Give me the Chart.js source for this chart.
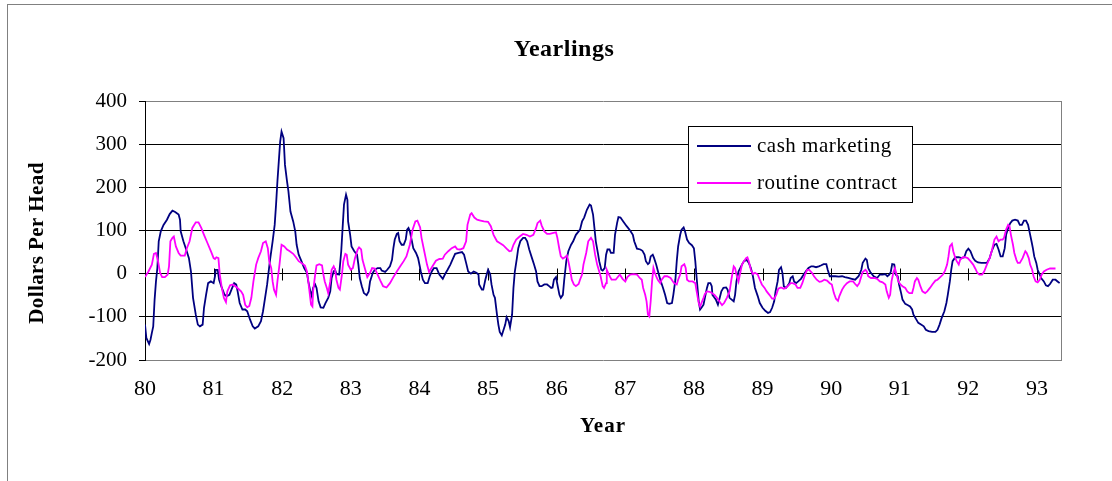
<!DOCTYPE html>
<html>
<head>
<meta charset="utf-8">
<title>Yearlings</title>
<script src="https://cdn.jsdelivr.net/npm/chart.js@4.4.0/dist/chart.umd.min.js"></script>
<style>
  html, body { margin: 0; padding: 0; background: #fff; }
  #wrap { position: relative; width: 1112px; height: 481px; }
</style>
</head>
<body>
<div id="wrap"><canvas id="chart" width="1112" height="481"></canvas></div>
<script>
const yearLabels = ["80", "81", "82", "83", "84", "85", "86", "87", "88", "89", "90", "91", "92", "93"];
const yTicks = [-200, -100, 0, 100, 200, 300, 400];

// cash marketing, dollars per head
const cashYears = [
  80.00, 80.02, 80.06, 80.08, 80.10, 80.12, 80.14, 80.16, 80.18, 80.20,
  80.23, 80.27, 80.32, 80.36, 80.40, 80.44, 80.49, 80.51, 80.52, 80.56,
  80.60, 80.64, 80.67, 80.70, 80.74, 80.77, 80.80, 80.84, 80.86, 80.89,
  80.92, 80.96, 81.00, 81.02, 81.03, 81.06, 81.08, 81.12, 81.16, 81.19,
  81.23, 81.26, 81.30, 81.33, 81.35, 81.38, 81.42, 81.46, 81.49, 81.53,
  81.57, 81.60, 81.65, 81.69, 81.72, 81.75, 81.78, 81.82, 81.86, 81.89,
  81.91, 81.93, 81.95, 81.97, 81.99, 82.02, 82.04, 82.07, 82.09, 82.12,
  82.16, 82.19, 82.21, 82.24, 82.28, 82.32, 82.36, 82.38, 82.41, 82.43,
  82.45, 82.48, 82.50, 82.53, 82.56, 82.60, 82.63, 82.67, 82.70, 82.72,
  82.75, 82.77, 82.79, 82.83, 82.86, 82.88, 82.90, 82.93, 82.95, 82.96,
  82.99, 83.01, 83.05, 83.09, 83.11, 83.13, 83.16, 83.19, 83.23, 83.26,
  83.28, 83.32, 83.35, 83.39, 83.43, 83.45, 83.50, 83.53, 83.57, 83.60,
  83.62, 83.64, 83.67, 83.69, 83.71, 83.74, 83.77, 83.80, 83.82, 83.84,
  83.86, 83.89, 83.91, 83.95, 83.98, 84.02, 84.05, 84.08, 84.12, 84.15,
  84.18, 84.21, 84.25, 84.29, 84.34, 84.37, 84.41, 84.45, 84.48, 84.52,
  84.57, 84.62, 84.65, 84.68, 84.71, 84.75, 84.79, 84.83, 84.86, 84.87,
  84.91, 84.93, 84.96, 84.98, 85.00, 85.03, 85.05, 85.08, 85.10, 85.13,
  85.15, 85.17, 85.20, 85.22, 85.25, 85.27, 85.30, 85.32, 85.35, 85.37,
  85.39, 85.42, 85.44, 85.47, 85.51, 85.54, 85.57, 85.60, 85.64, 85.67,
  85.70, 85.72, 85.75, 85.78, 85.82, 85.86, 85.89, 85.92, 85.94, 85.96,
  85.99, 86.02, 86.04, 86.06, 86.09, 86.11, 86.14, 86.17, 86.21, 86.24,
  86.28, 86.32, 86.34, 86.37, 86.40, 86.44, 86.48, 86.50, 86.53, 86.55,
  86.57, 86.60, 86.62, 86.65, 86.67, 86.70, 86.72, 86.74, 86.77, 86.79,
  86.83, 86.85, 86.88, 86.90, 86.93, 86.97, 87.02, 87.07, 87.11, 87.13,
  87.17, 87.22, 87.25, 87.28, 87.30, 87.33, 87.35, 87.37, 87.40, 87.42,
  87.45, 87.47, 87.51, 87.55, 87.58, 87.61, 87.64, 87.68, 87.70, 87.73,
  87.75, 87.77, 87.80, 87.82, 87.85, 87.87, 87.90, 87.93, 87.97, 88.00,
  88.02, 88.04, 88.07, 88.09, 88.11, 88.14, 88.16, 88.19, 88.21, 88.24,
  88.26, 88.27, 88.30, 88.32, 88.35, 88.37, 88.40, 88.43, 88.47, 88.49,
  88.52, 88.55, 88.58, 88.60, 88.62, 88.65, 88.70, 88.73, 88.77, 88.80,
  88.83, 88.86, 88.89, 88.93, 88.96, 89.00, 89.04, 89.08, 89.11, 89.14,
  89.17, 89.19, 89.22, 89.24, 89.27, 89.29, 89.31, 89.34, 89.36, 89.39,
  89.41, 89.44, 89.46, 89.49, 89.52, 89.56, 89.60, 89.64, 89.67, 89.71,
  89.74, 89.78, 89.82, 89.85, 89.89, 89.93, 89.95, 89.98, 90.01, 90.06,
  90.11, 90.16, 90.20, 90.25, 90.30, 90.35, 90.40, 90.44, 90.46, 90.50,
  90.52, 90.54, 90.57, 90.62, 90.67, 90.71, 90.75, 90.79, 90.82, 90.85,
  90.87, 90.89, 90.92, 90.94, 90.97, 90.99, 91.02, 91.04, 91.08, 91.12,
  91.15, 91.18, 91.20, 91.24, 91.27, 91.31, 91.35, 91.38, 91.42, 91.47,
  91.52, 91.55, 91.58, 91.61, 91.65, 91.68, 91.70, 91.73, 91.75, 91.77,
  91.81, 91.86, 91.90, 91.94, 91.97, 92.00, 92.03, 92.07, 92.10, 92.14,
  92.19, 92.23, 92.27, 92.31, 92.34, 92.38, 92.41, 92.44, 92.47, 92.50,
  92.53, 92.55, 92.58, 92.61, 92.64, 92.68, 92.72, 92.75, 92.78, 92.81,
  92.84, 92.87, 92.89, 92.92, 92.94, 92.96, 92.99, 93.01, 93.04, 93.06,
  93.10, 93.13, 93.16, 93.19, 93.23, 93.27, 93.30, 93.33
];
const cashDollars = [
  -118, -149, -163, -153, -137, -122, -60, -18, 13, 75,
  98, 113, 125, 138, 146, 143, 137, 125, 98, 75,
  56, 36, 5, -56, -95, -118, -122, -118, -79, -49,
  -22, -18, -22, -6, 9, 9, -14, -33, -49, -52,
  -49, -37, -22, -25, -41, -68, -83, -83, -87, -106,
  -122, -127, -122, -110, -87, -56, -25, 29, 75, 113,
  160, 214, 260, 306, 329, 314, 252, 214, 191, 144,
  121, 98, 67, 44, 29, 13, 2, -18, -41, -52,
  -33, -25, -33, -64, -78, -79, -68, -56, -41, -10,
  5, 9, -1, -2, 52, 106, 160, 183, 171, 121,
  90, 63, 52, 44, 21, -10, -29, -45, -50, -41,
  -18, 2, 9, 13, 13, 7, 4, 9, 17, 32,
  59, 79, 92, 94, 75, 67, 67, 79, 102, 106,
  98, 75, 59, 48, 36, 5, -14, -22, -22, -6,
  5, 13, 13, -2, -12, -2, 9, 21, 32, 46,
  48, 50, 44, 25, 5, 0, 5, 2, -2, -25,
  -37, -37, -14, -2, 9, -1, -25, -49, -56, -95,
  -118, -135, -143, -133, -118, -101, -110, -124, -95, -33,
  5, 36, 59, 75, 83, 83, 75, 56, 36, 21,
  5, -18, -29, -29, -25, -25, -29, -33, -32, -14,
  -8, -33, -49, -56, -49, -14, 29, 52, 67, 75,
  90, 98, 102, 121, 130, 148, 160, 158, 137, 106,
  75, 48, 29, 9, 7, 13, 44, 56, 56, 48,
  48, 90, 117, 131, 130, 121, 110, 100, 90, 75,
  58, 56, 53, 44, 29, 22, 25, 40, 44, 36,
  21, 9, -14, -33, -49, -68, -70, -68, -49, -14,
  29, 63, 90, 102, 107, 98, 79, 71, 66, 59,
  29, -10, -64, -83, -79, -72, -56, -33, -22, -22,
  -29, -49, -56, -60, -72, -60, -41, -33, -32, -37,
  -56, -60, -64, -49, -18, 5, 21, 29, 32, 25,
  13, -6, -33, -52, -68, -79, -86, -91, -89, -79,
  -64, -41, -18, 9, 15, 2, -29, -33, -29, -22,
  -10, -6, -18, -22, -18, -12, -2, 7, 13, 17,
  17, 15, 17, 19, 22, 22, 9, -6, -6, -6,
  -7, -6, -8, -10, -12, -14, -6, 9, 25, 35,
  32, 13, 4, -6, -10, -2, -2, -1, -6, -2,
  5, 22, 21, -2, -6, -25, -45, -60, -70, -73,
  -76, -83, -95, -106, -114, -118, -122, -130, -133, -135,
  -135, -130, -118, -103, -87, -68, -49, -18, 9, 29,
  38, 38, 36, 38, 52, 58, 52, 36, 30, 26,
  25, 25, 25, 36, 52, 67, 69, 56, 40, 40,
  59, 90, 106, 117, 123, 125, 123, 113, 113, 123,
  123, 113, 98, 75, 59, 40, 25, 9, -2, -10,
  -18, -27, -29, -24, -14, -14, -18, -22
];

// routine contract, dollars per head
const contractYears = [
  80.00, 80.05, 80.10, 80.13, 80.16, 80.19, 80.22, 80.25, 80.29, 80.33,
  80.35, 80.37, 80.40, 80.42, 80.45, 80.49, 80.52, 80.58, 80.61, 80.65,
  80.69, 80.74, 80.78, 80.82, 80.86, 80.91, 80.96, 81.00, 81.02, 81.04,
  81.07, 81.09, 81.12, 81.15, 81.18, 81.20, 81.24, 81.28, 81.34, 81.40,
  81.43, 81.46, 81.49, 81.52, 81.55, 81.58, 81.62, 81.65, 81.69, 81.72,
  81.76, 81.79, 81.81, 81.84, 81.86, 81.88, 81.91, 81.93, 81.96, 81.99,
  82.03, 82.07, 82.11, 82.16, 82.20, 82.24, 82.28, 82.33, 82.36, 82.38,
  82.40, 82.42, 82.44, 82.45, 82.48, 82.50, 82.54, 82.58, 82.60, 82.62,
  82.65, 82.67, 82.70, 82.72, 82.75, 82.77, 82.79, 82.82, 82.84, 82.87,
  82.89, 82.92, 82.94, 82.96, 83.00, 83.03, 83.06, 83.10, 83.12, 83.15,
  83.17, 83.21, 83.24, 83.28, 83.31, 83.35, 83.39, 83.43, 83.47, 83.52,
  83.57, 83.62, 83.67, 83.72, 83.77, 83.81, 83.86, 83.90, 83.94, 83.97,
  84.01, 84.03, 84.07, 84.11, 84.14, 84.19, 84.24, 84.29, 84.34, 84.37,
  84.42, 84.47, 84.52, 84.55, 84.59, 84.64, 84.68, 84.70, 84.74, 84.76,
  84.80, 84.84, 84.89, 84.94, 85.00, 85.04, 85.08, 85.13, 85.17, 85.22,
  85.27, 85.31, 85.34, 85.37, 85.41, 85.46, 85.51, 85.56, 85.61, 85.66,
  85.70, 85.72, 85.76, 85.78, 85.82, 85.86, 85.90, 85.94, 85.99, 86.01,
  86.04, 86.06, 86.09, 86.12, 86.15, 86.17, 86.20, 86.22, 86.25, 86.28,
  86.32, 86.34, 86.37, 86.39, 86.43, 86.46, 86.50, 86.53, 86.56, 86.59,
  86.62, 86.64, 86.67, 86.69, 86.72, 86.73, 86.75, 86.78, 86.80, 86.83,
  86.86, 86.92, 86.96, 87.00, 87.03, 87.07, 87.12, 87.17, 87.21, 87.24,
  87.26, 87.29, 87.31, 87.33, 87.35, 87.37, 87.39, 87.41, 87.43, 87.46,
  87.48, 87.51, 87.53, 87.57, 87.61, 87.66, 87.71, 87.75, 87.77, 87.80,
  87.82, 87.86, 87.88, 87.90, 87.93, 87.98, 88.02, 88.04, 88.07, 88.09,
  88.11, 88.14, 88.16, 88.19, 88.23, 88.26, 88.30, 88.33, 88.37, 88.41,
  88.44, 88.48, 88.52, 88.55, 88.58, 88.60, 88.62, 88.65, 88.67, 88.70,
  88.73, 88.76, 88.78, 88.80, 88.83, 88.86, 88.89, 88.93, 88.96, 88.99,
  89.03, 89.06, 89.10, 89.14, 89.17, 89.20, 89.23, 89.27, 89.31, 89.34,
  89.38, 89.41, 89.44, 89.48, 89.51, 89.55, 89.58, 89.62, 89.65, 89.68,
  89.72, 89.75, 89.79, 89.83, 89.86, 89.90, 89.94, 89.98, 90.01, 90.04,
  90.07, 90.10, 90.12, 90.16, 90.19, 90.23, 90.27, 90.32, 90.35, 90.38,
  90.41, 90.44, 90.46, 90.50, 90.52, 90.54, 90.58, 90.63, 90.67, 90.71,
  90.75, 90.79, 90.81, 90.84, 90.86, 90.88, 90.91, 90.93, 90.96, 90.98,
  91.01, 91.04, 91.08, 91.11, 91.14, 91.18, 91.20, 91.22, 91.25, 91.27,
  91.30, 91.33, 91.37, 91.40, 91.44, 91.48, 91.52, 91.55, 91.59, 91.63,
  91.66, 91.69, 91.71, 91.73, 91.76, 91.78, 91.81, 91.83, 91.86, 91.88,
  91.92, 91.95, 91.99, 92.03, 92.07, 92.10, 92.13, 92.16, 92.20, 92.23,
  92.27, 92.31, 92.34, 92.38, 92.41, 92.44, 92.47, 92.50, 92.52, 92.55,
  92.58, 92.60, 92.62, 92.65, 92.67, 92.70, 92.72, 92.75, 92.79, 92.83,
  92.85, 92.88, 92.90, 92.93, 92.95, 92.98, 93.01, 93.04, 93.07, 93.10,
  93.14, 93.19, 93.27
];
const contractDollars = [
  -8, 5, 21, 46, 48, 29, 2, -8, -8, -2,
  17, 75, 83, 86, 63, 48, 42, 42, 59, 75,
  106, 119, 119, 106, 90, 71, 52, 36, 34, 38,
  36, -2, -33, -56, -66, -41, -27, -25, -32, -41,
  -49, -72, -78, -75, -56, -18, 21, 36, 52, 71,
  75, 59, 29, 13, -18, -37, -49, -18, 21, 67,
  63, 56, 52, 46, 38, 29, 25, 19, 5, -18,
  -45, -72, -76, -41, -2, 19, 22, 19, -2, -18,
  -33, -45, -18, 9, 17, 9, -14, -33, -37, -2,
  29, 46, 44, 21, 9, 13, 36, 56, 61, 56,
  32, 9, -8, 2, 13, 12, -2, -16, -29, -32,
  -22, -8, 5, 17, 29, 40, 67, 102, 121, 123,
  107, 83, 52, 21, 4, 17, 30, 34, 35, 44,
  52, 59, 63, 57, 56, 59, 75, 113, 137, 140,
  130, 125, 123, 121, 120, 110, 90, 75, 71, 66,
  58, 52, 53, 67, 79, 86, 92, 90, 86, 90,
  106, 117, 123, 112, 98, 92, 92, 94, 96, 83,
  56, 40, 35, 38, 42, 29, 5, -14, -25, -29,
  -24, -14, -2, 21, 48, 75, 83, 75, 44, 21,
  5, -6, -29, -33, -22, 9, 2, -8, -14, -14,
  -14, -2, -12, -18, -8, -2, -1, -2, -10, -14,
  -33, -49, -64, -95, -99, -64, -18, 13, 2, -10,
  -16, -22, -14, -6, -6, -10, -22, -25, -14, -2,
  17, 22, 13, -14, -18, -18, -22, -41, -68, -76,
  -68, -56, -47, -41, -42, -45, -49, -55, -64, -73,
  -68, -56, -41, -10, 17, 13, -2, -18, -2, 21,
  29, 36, 38, 29, 9, -1, 2, -2, -14, -25,
  -33, -41, -49, -58, -58, -49, -35, -32, -35, -33,
  -27, -22, -22, -25, -33, -33, -22, -2, 9, 9,
  2, -6, -14, -19, -18, -14, -16, -22, -25, -45,
  -58, -63, -52, -37, -29, -22, -18, -18, -24, -29,
  -22, -6, 4, 9, 5, -6, -10, -10, -12, -18,
  -20, -25, -41, -56, -49, -18, 5, 13, -6, -18,
  -25, -29, -33, -41, -45, -45, -33, -18, -10, -14,
  -29, -41, -45, -41, -33, -24, -16, -14, -8, -2,
  7, 21, 40, 63, 69, 52, 36, 29, 21, 32,
  38, 38, 36, 29, 21, 12, 2, -2, -2, 5,
  21, 36, 52, 79, 86, 75, 79, 79, 83, 102,
  113, 110, 90, 67, 48, 32, 25, 25, 36, 52,
  48, 36, 21, 9, -6, -18, -20, -14, -2, 5,
  9, 12, 12
];

const serif = "'Liberation Serif', 'Times New Roman', serif";

function toPoints(xs, ys) {
  return xs.map((x, i) => ({ x: x, y: ys[i] }));
}

// frame, titles, zero-line ticks and the boxed legend
const decorations = {
  id: "decorations",
  beforeDraw(chart) {
    const ctx = chart.ctx;
    ctx.save();
    ctx.fillStyle = "#fff";
    ctx.fillRect(0, 0, chart.width, chart.height);
    ctx.fillStyle = "#808080";
    ctx.fillRect(7, 4, chart.width - 7, 1);
    ctx.fillRect(7, 4, 1, chart.height - 4);
    ctx.restore();
  },
  beforeDatasetsDraw(chart) {
    const ctx = chart.ctx;
    const area = chart.chartArea;
    const xs = chart.scales.x;
    const ys = chart.scales.y;
    ctx.save();
    ctx.fillStyle = "#808080";
    ctx.fillRect(area.right, area.top, 1, area.bottom - area.top + 1);
    const y0 = Math.round(ys.getPixelForValue(0)) + 0.5;
    ctx.strokeStyle = "#000";
    ctx.lineWidth = 1;
    ctx.beginPath();
    yearLabels.forEach((lab, i) => {
      const px = Math.round(xs.getPixelForValue(80 + i)) + 0.5;
      ctx.moveTo(px, y0 - 6);
      ctx.lineTo(px, y0 + 6);
    });
    ctx.stroke();
    ctx.restore();
  },
  afterDraw(chart) {
    const ctx = chart.ctx;
    const area = chart.chartArea;
    ctx.save();
    ctx.fillStyle = "#000";
    ctx.textAlign = "center";
    ctx.textBaseline = "middle";

    ctx.font = "bold 24px " + serif;
    ctx.letterSpacing = "0.5px";
    ctx.fillText("Yearlings", 564, 50);

    ctx.font = "bold 21px " + serif;
    ctx.letterSpacing = "1px";
    ctx.fillText("Year", (area.left + area.right) / 2, 427);

    ctx.save();
    ctx.translate(38, 243);
    ctx.rotate(-Math.PI / 2);
    ctx.letterSpacing = "0.4px";
    ctx.fillText("Dollars Per Head", 0, 0);
    ctx.restore();

    // legend box
    const bx = 688.5, by = 126.5, bw = 224, bh = 76;
    ctx.fillStyle = "#fff";
    ctx.fillRect(bx, by, bw, bh);
    ctx.strokeStyle = "#000";
    ctx.lineWidth = 1;
    ctx.strokeRect(bx, by, bw, bh);
    ctx.font = "21px " + serif;
    ctx.letterSpacing = "0.5px";
    ctx.textAlign = "left";
    const rows = [146, 183];
    chart.data.datasets.forEach((ds, i) => {
      ctx.strokeStyle = ds.borderColor;
      ctx.lineWidth = 2;
      ctx.beginPath();
      ctx.moveTo(697, rows[i]);
      ctx.lineTo(751, rows[i]);
      ctx.stroke();
      ctx.fillStyle = "#000";
      ctx.fillText(ds.label, 757, rows[i]);
    });
    ctx.restore();
  }
};

new Chart(document.getElementById("chart"), {
  type: "line",
  data: {
    datasets: [
      {
        label: "cash marketing",
        data: toPoints(cashYears, cashDollars),
        borderColor: "#000080",
        borderWidth: 1.8,
        pointRadius: 0,
        tension: 0,
        order: 1,
      },
      {
        label: "routine contract",
        data: toPoints(contractYears, contractDollars),
        borderColor: "#ff00ff",
        borderWidth: 1.8,
        pointRadius: 0,
        tension: 0,
        order: 0,
      },
    ],
  },
  options: {
    responsive: false,
    animation: false,
    devicePixelRatio: 1,
    layout: { padding: { left: 0, top: 101, right: 51, bottom: 0 } },
    plugins: {
      legend: { display: false },
      tooltip: { enabled: false },
      title: { display: false },
    },
    scales: {
      x: {
        type: "linear",
        min: 80,
        max: 93.35,
        grid: { display: false, drawTicks: false },
        border: { display: false },
        ticks: {
          stepSize: 1,
          includeBounds: false,
          autoSkip: false,
          maxRotation: 0,
          padding: 16,
          color: "#000",
          font: { family: serif, size: 22 },
          callback: (v) => (Number.isInteger(v) ? yearLabels[v - 80] : ""),
        },
        afterFit: (s) => { s.height = 121; },
      },
      y: {
        min: yTicks[0],
        max: yTicks[yTicks.length - 1],
        grid: {
          color: (c) => (c.tick && (c.tick.value === 400 || c.tick.value === -200) ? "#808080" : "#000"),
          tickColor: "#000",
          tickLength: 6,
          lineWidth: 1,
        },
        border: { color: "#000", width: 1 },
        ticks: {
          stepSize: 100,
          padding: 12,
          color: "#000",
          font: { family: serif, size: 21 },
        },
        afterFit: (s) => { s.width = 145; },
      },
    },
  },
  plugins: [decorations],
});
</script>
</body>
</html>
